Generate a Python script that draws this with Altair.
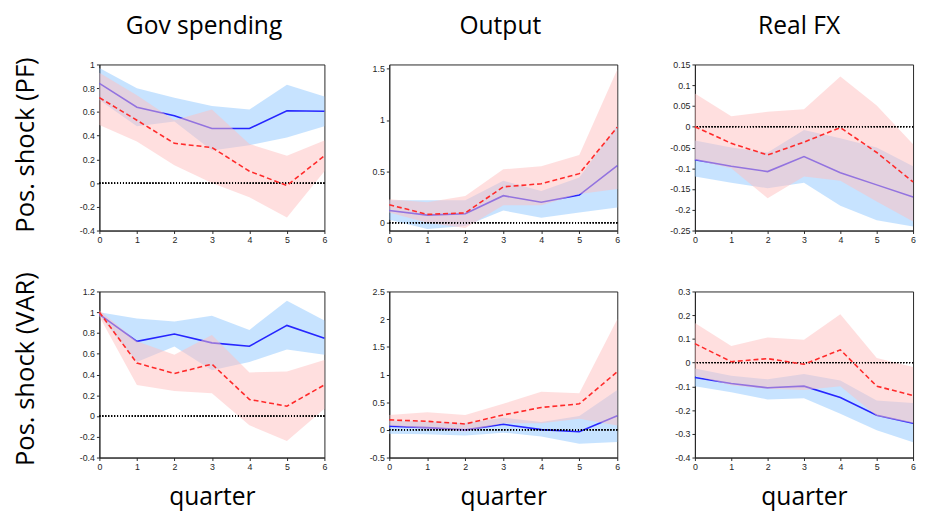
import altair as alt
import pandas as pd

QUARTERS = [0, 1, 2, 3, 4, 5, 6]
COL_TITLES = ["Gov spending", "Output", "Real FX"]
ROW_TITLES = ["Pos. shock (PF)", "Pos. shock (VAR)"]

# ---- Row 1: PF ----
GOV_PF_BLUE = [0.84, 0.64, 0.567, 0.46, 0.46, 0.61, 0.605]
GOV_PF_BLUE_LO = [0.70, 0.48, 0.52, 0.275, 0.32, 0.385, 0.48]
GOV_PF_BLUE_HI = [0.97, 0.80, 0.72, 0.65, 0.62, 0.83, 0.73]
GOV_PF_RED = [0.72, 0.53, 0.335, 0.30, 0.10, -0.02, 0.23]
GOV_PF_RED_LO = [0.49, 0.35, 0.15, 0.0, -0.12, -0.29, 0.10]
GOV_PF_RED_HI = [0.93, 0.74, 0.53, 0.62, 0.33, 0.23, 0.36]

OUT_PF_BLUE = [0.12, 0.075, 0.088, 0.264, 0.20, 0.27, 0.556]
OUT_PF_BLUE_LO = [0.03, -0.06, -0.03, 0.12, 0.05, 0.10, 0.15]
OUT_PF_BLUE_HI = [0.22, 0.22, 0.22, 0.41, 0.31, 0.44, 0.95]
OUT_PF_RED = [0.176, 0.082, 0.097, 0.35, 0.38, 0.478, 0.93]
OUT_PF_RED_LO = [0.10, 0.0, -0.05, 0.17, 0.17, 0.28, 0.33]
OUT_PF_RED_HI = [0.23, 0.20, 0.26, 0.52, 0.55, 0.66, 1.49]

FX_PF_BLUE = [-0.0795, -0.095, -0.108, -0.072, -0.111, -0.14, -0.169]
FX_PF_BLUE_LO = [-0.12, -0.135, -0.148, -0.135, -0.19, -0.225, -0.24]
FX_PF_BLUE_HI = [-0.033, -0.05, -0.062, -0.008, -0.028, -0.05, -0.095]
FX_PF_RED = [0.0, -0.04, -0.068, -0.037, -0.002, -0.062, -0.133]
FX_PF_RED_LO = [-0.08, -0.10, -0.172, -0.12, -0.13, -0.18, -0.228]
FX_PF_RED_HI = [0.08, 0.025, 0.036, 0.042, 0.121, 0.051, -0.042]

# ---- Row 2: VAR ----
GOV_VAR_BLUE = [0.98, 0.72, 0.79, 0.705, 0.673, 0.873, 0.75]
GOV_VAR_BLUE_LO = [0.97, 0.52, 0.67, 0.44, 0.52, 0.64, 0.59]
GOV_VAR_BLUE_HI = [1.0, 0.94, 0.91, 0.965, 0.83, 1.11, 0.92]
GOV_VAR_RED = [1.0, 0.51, 0.41, 0.50, 0.16, 0.095, 0.30]
GOV_VAR_RED_LO = [0.96, 0.30, 0.24, 0.22, -0.09, -0.24, 0.07]
GOV_VAR_RED_HI = [1.02, 0.72, 0.59, 0.78, 0.42, 0.43, 0.54]

OUT_VAR_BLUE = [0.065, 0.04, 0.0, 0.10, 0.005, -0.035, 0.255]
OUT_VAR_BLUE_LO = [-0.07, -0.08, -0.10, -0.05, -0.12, -0.25, -0.22]
OUT_VAR_BLUE_HI = [0.17, 0.15, 0.12, 0.22, 0.14, 0.25, 0.72]
OUT_VAR_RED = [0.18, 0.155, 0.107, 0.27, 0.405, 0.47, 1.05]
OUT_VAR_RED_LO = [0.08, 0.02, -0.03, 0.12, 0.12, 0.20, 0.08]
OUT_VAR_RED_HI = [0.27, 0.32, 0.27, 0.47, 0.69, 0.66, 2.0]

FX_VAR_BLUE = [-0.063, -0.088, -0.106, -0.099, -0.147, -0.222, -0.255]
FX_VAR_BLUE_LO = [-0.10, -0.125, -0.155, -0.15, -0.215, -0.285, -0.335]
FX_VAR_BLUE_HI = [-0.025, -0.055, -0.07, -0.048, -0.075, -0.16, -0.17]
FX_VAR_RED = [0.08, 0.004, 0.017, -0.007, 0.054, -0.099, -0.139]
FX_VAR_RED_LO = [-0.055, -0.095, -0.11, -0.115, -0.10, -0.225, -0.255]
FX_VAR_RED_HI = [0.167, 0.07, 0.106, 0.097, 0.204, 0.02, -0.018]

# y-axis domains and ticks per panel
Y_DOMAINS = [
    [[-0.4, 1.0], [-0.075, 1.54], [-0.25, 0.15]],
    [[-0.4, 1.2], [-0.5, 2.5], [-0.4, 0.3]],
]
Y_TICKS = [
    [[-0.4, -0.2, 0, 0.2, 0.4, 0.6, 0.8, 1.0],
     [0, 0.5, 1.0, 1.5],
     [-0.25, -0.2, -0.15, -0.1, -0.05, 0, 0.05, 0.1, 0.15]],
    [[-0.4, -0.2, 0, 0.2, 0.4, 0.6, 0.8, 1.0, 1.2],
     [-0.5, 0, 0.5, 1.0, 1.5, 2.0, 2.5],
     [-0.4, -0.3, -0.2, -0.1, 0, 0.1, 0.2, 0.3]],
]

PANELS = [
    [(GOV_PF_BLUE, GOV_PF_BLUE_LO, GOV_PF_BLUE_HI, GOV_PF_RED, GOV_PF_RED_LO, GOV_PF_RED_HI),
     (OUT_PF_BLUE, OUT_PF_BLUE_LO, OUT_PF_BLUE_HI, OUT_PF_RED, OUT_PF_RED_LO, OUT_PF_RED_HI),
     (FX_PF_BLUE, FX_PF_BLUE_LO, FX_PF_BLUE_HI, FX_PF_RED, FX_PF_RED_LO, FX_PF_RED_HI)],
    [(GOV_VAR_BLUE, GOV_VAR_BLUE_LO, GOV_VAR_BLUE_HI, GOV_VAR_RED, GOV_VAR_RED_LO, GOV_VAR_RED_HI),
     (OUT_VAR_BLUE, OUT_VAR_BLUE_LO, OUT_VAR_BLUE_HI, OUT_VAR_RED, OUT_VAR_RED_LO, OUT_VAR_RED_HI),
     (FX_VAR_BLUE, FX_VAR_BLUE_LO, FX_VAR_BLUE_HI, FX_VAR_RED, FX_VAR_RED_LO, FX_VAR_RED_HI)],
]

WIDTHS = [229, 232, 222]
MIN_EXT = [10, 24, 37]
COL_TITLE_DX = [-8, -3, -5]
COL_TITLE_OFFSET = [22, 26, 22]
ROW_TITLE_DX = [-16, 30]
H = 169
TITLE_FONT = "Open Sans"
LABEL_FONT = "Liberation Sans"
LABEL_EXPR = "replace(format(datum.value, '.2~f'), '\u2212', '-')"


def panel(r, c):
    bm, bl, bh, rm, rl, rh = PANELS[r][c]
    df = pd.DataFrame({"q": QUARTERS, "bm": bm, "bl": bl, "bh": bh,
                       "rm": rm, "rl": rl, "rh": rh})
    xscale = alt.Scale(domain=[0, 6], nice=False, zero=False)
    xaxis_kw = dict(values=QUARTERS, labelExpr="format(datum.value, 'd')",
                    labelOverlap=False, labelFlush=False, tickCount=20)
    if r == 1:
        xaxis = alt.Axis(title="quarter", titleFontSize=25, titleFont=TITLE_FONT,
                         titleFontWeight="normal", titleColor="black",
                         titlePadding=14, **xaxis_kw)
    else:
        xaxis = alt.Axis(title=None, **xaxis_kw)
    yscale = alt.Scale(domain=Y_DOMAINS[r][c], nice=False, zero=False)
    yaxis = alt.Axis(title=None, values=Y_TICKS[r][c], labelExpr=LABEL_EXPR,
                     labelOverlap=False, labelFlush=False, tickCount=30,
                     minExtent=MIN_EXT[c])

    def X():
        return alt.X("q:Q", scale=xscale, axis=xaxis, title=None)

    def Y(f):
        return alt.Y(f + ":Q", scale=yscale, axis=yaxis, title=None)

    base = alt.Chart(df)
    blue_band = base.mark_area(color="#99ccff", opacity=0.55).encode(
        x=X(), y=Y("bl"), y2="bh")
    blue_line = base.mark_line(color="#2626ff", strokeWidth=1.6).encode(
        x=X(), y=Y("bm"))
    red_band = base.mark_area(color="#ffbfbf", opacity=0.5).encode(
        x=X(), y=Y("rl"), y2="rh")
    zero = base.mark_rule(color="black", strokeDash=[1, 2], strokeWidth=1).encode(
        y=alt.datum(0))
    red_line = base.mark_line(color="#ff2a2a", strokeWidth=1.6,
                              strokeDash=[5, 3]).encode(x=X(), y=Y("rm"))
    ch = alt.layer(blue_band, blue_line, red_band, zero, red_line)
    props = dict(width=WIDTHS[c], height=H)
    if r == 0:
        props["title"] = alt.TitleParams(text=COL_TITLES[c], fontSize=25,
                                         font=TITLE_FONT, fontWeight="normal",
                                         color="black",
                                         offset=COL_TITLE_OFFSET[c],
                                         dx=COL_TITLE_DX[c])
    return ch.properties(**props)


rows = []
for r in range(2):
    rows.append(
        alt.hconcat(*[panel(r, c) for c in range(3)], spacing=37).properties(
            title=alt.TitleParams(text=ROW_TITLES[r], orient="left",
                                  anchor="middle", fontSize=26,
                                  font=TITLE_FONT, fontWeight="normal",
                                  color="black", offset=41,
                                  dx=ROW_TITLE_DX[r])
        )
    )

chart = alt.vconcat(*rows, spacing=27).properties(
    padding={"left": 4, "top": 1, "right": 0, "bottom": 0}
).configure_axis(
    grid=False, domainColor="#262626", tickColor="#262626",
    labelColor="#262626", labelFont=LABEL_FONT, labelFontSize=9,
    tickSize=3, labelPadding=2, domainWidth=1
).configure_view(
    stroke="#262626", strokeWidth=1
)

chart.save("out.html", embed_options={"renderer": "svg", "actions": False})
